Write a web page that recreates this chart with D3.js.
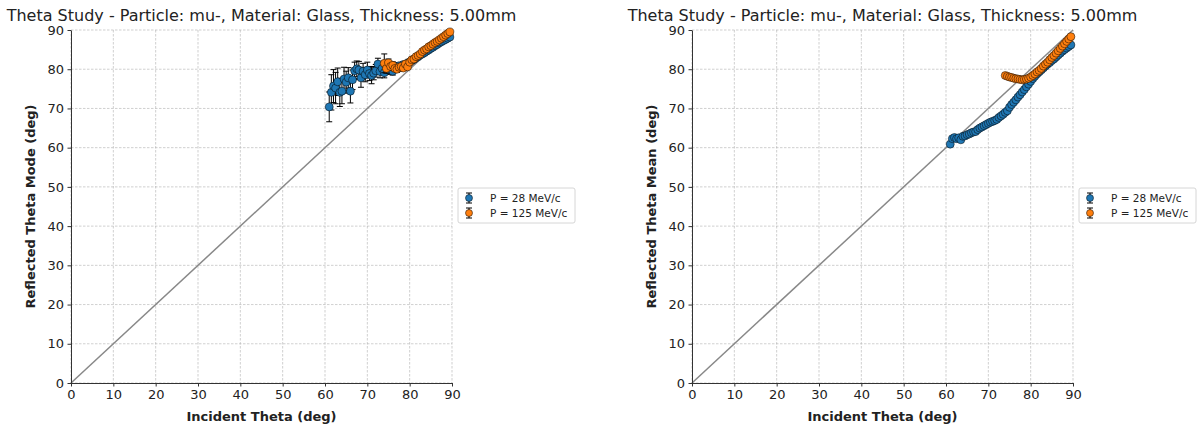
<!DOCTYPE html>
<html><head><meta charset="utf-8">
<script src="https://cdn.jsdelivr.net/npm/d3@7"></script>
<style>
body{margin:0;background:#fff;}
svg text{font-family:"DejaVu Sans",sans-serif;fill:#222;}
</style></head>
<body><svg id="c" width="1199" height="429"></svg>
<script>
const titleText = "Theta Study - Particle: mu-, Material: Glass, Thickness: 5.00mm";
const xLabel = "Incident Theta (deg)";
const yLabels = ["Reflected Theta Mode (deg)", "Reflected Theta Mean (deg)"];
const seriesNames = ["P = 28 MeV/c", "P = 125 MeV/c"];
const ticks = [0,10,20,30,40,50,60,70,80,90];

const thetaLow = [61.0,61.5,62.0,62.5,63.0,63.5,64.0,64.5,65.0,65.5,66.0,66.5,67.0,67.5,68.0,68.5,69.0,69.5,70.0,70.5,71.0,71.5,72.0,72.5,73.0,73.5,74.0,74.5,75.0,75.5,76.0,76.5,77.0,77.5,78.0,78.5,79.0,79.5,80.0,80.5,81.0,81.5,82.0,82.5,83.0,83.5,84.0,84.5,85.0,85.5,86.0,86.5,87.0,87.5,88.0,88.5,89.0,89.5];
const modeLow = [70.4,74.1,75.7,75.2,76.8,74.1,74.4,77.5,76.7,77.8,74.4,77.3,79.6,80.1,79.8,77.8,79.5,78.6,79.8,78.9,78.4,79.0,79.6,81.3,79.4,80.2,79.1,80.5,79.8,80.3,79.5,80.6,80.2,80.9,80.4,81.2,81.0,81.6,81.8,82.2,82.5,82.9,83.2,83.6,83.9,84.2,84.6,84.9,85.3,85.6,86.0,86.3,86.7,87.0,87.3,87.6,87.9,88.2];
const modeLowErr = [3.8,4.5,4.2,4.0,3.5,3.6,3.2,3.0,2.8,2.6,3.0,2.5,2.2,2.0,2.2,2.4,2.0,1.8,2.0,1.8,2.1,1.7,1.6,1.5,1.6,1.4,1.3,1.2,1.1,1.0,1.0,0.9,0.8,0.8,0.7,0.7,0.6,0.6,0.5,0.5,0.5,0.4,0.4,0.4,0.4,0.3,0.3,0.3,0.3,0.3,0.3,0.2,0.2,0.2,0.2,0.2,0.2,0.2];
const meanLow = [60.9,62.3,62.6,62.3,62.5,62.0,62.9,63.0,63.3,63.5,63.8,64.0,64.1,64.6,65.0,65.3,65.6,65.9,66.2,66.5,66.7,66.9,67.2,67.7,68.1,68.5,69.0,69.4,70.3,71.0,71.6,72.2,72.9,73.5,74.2,74.8,75.5,76.2,76.9,77.6,78.2,78.8,79.3,79.8,80.3,80.8,81.3,81.7,82.2,82.6,83.1,83.6,84.1,84.6,85.0,85.4,85.8,86.2];

const thetaHigh = [74.0,74.5,75.0,75.5,76.0,76.5,77.0,77.5,78.0,78.5,79.0,79.5,80.0,80.5,81.0,81.5,82.0,82.5,83.0,83.5,84.0,84.5,85.0,85.5,86.0,86.5,87.0,87.5,88.0,88.5,89.0,89.5];
const modeHigh = [81.5,80.2,81.6,80.7,81.0,80.2,80.0,80.5,80.7,80.3,81.3,80.6,81.8,82.4,82.6,83.2,83.5,83.9,84.5,84.9,85.2,85.7,86.0,86.4,86.8,87.1,87.5,87.9,88.3,88.7,89.1,89.5];
const modeHighErr = [2.4,1.2,1.0,1.0,0.9,0.8,0.8,0.7,0.6,0.6,0.6,0.5,0.5,0.5,0.4,0.4,0.4,0.4,0.3,0.3,0.3,0.3,0.3,0.3,0.2,0.2,0.2,0.2,0.2,0.2,0.2,0.2];
const meanHigh = [78.4,78.2,78.0,77.9,77.7,77.6,77.5,77.4,77.3,77.4,77.5,77.7,78.0,78.4,78.8,79.3,79.7,80.2,80.8,81.3,81.8,82.4,83.0,83.5,84.1,84.7,85.3,85.9,86.5,87.1,87.7,88.3];

const colors = ["#1f77b4", "#ff7f0e"];

const svg = d3.select("#c");
const panels = [
  {x0:71, yLabel:yLabels[0], series:[
     {t:thetaLow, v:modeLow, e:modeLowErr, c:colors[0]},
     {t:thetaHigh, v:modeHigh, e:modeHighErr, c:colors[1]}]},
  {x0:692, yLabel:yLabels[1], series:[
     {t:thetaLow, v:meanLow, e:null, c:colors[0]},
     {t:thetaHigh, v:meanHigh, e:null, c:colors[1]}]}
];
const W = 381, plotTop = 30, plotBottom = 383;

panels.forEach(p => {
  const g = svg.append("g");
  const x = d3.scaleLinear().domain([0,90]).range([p.x0, p.x0+W]);
  const y = d3.scaleLinear().domain([0,90]).range([plotBottom, plotTop]);
  g.append("g").selectAll("line").data(ticks).join("line")
    .attr("x1", d=>x(d)).attr("x2", d=>x(d)).attr("y1", plotTop).attr("y2", plotBottom)
    .attr("stroke","#b0b0b0").attr("stroke-width",0.6).attr("stroke-dasharray","2.5,1.5");
  g.append("g").selectAll("line").data(ticks).join("line")
    .attr("x1", p.x0).attr("x2", p.x0+W).attr("y1", d=>y(d)).attr("y2", d=>y(d))
    .attr("stroke","#b0b0b0").attr("stroke-width",0.6).attr("stroke-dasharray","2.5,1.5");
  g.append("line").attr("x1",x(0)).attr("y1",y(0)).attr("x2",x(90)).attr("y2",y(90))
    .attr("stroke","#888").attr("stroke-width",1.5);
  const xa = g.append("g").attr("transform",`translate(0,${plotBottom})`)
    .call(d3.axisBottom(x).tickValues(ticks).tickSize(3.5).tickPadding(3.5).tickSizeOuter(0));
  const ya = g.append("g").attr("transform",`translate(${p.x0},0)`)
    .call(d3.axisLeft(y).tickValues(ticks).tickSize(3.5).tickPadding(3.5).tickSizeOuter(0));
  [xa,ya].forEach(a=>{
    a.selectAll("path").attr("stroke","#333").attr("stroke-width",1);
    a.selectAll("line").attr("stroke","#333");
    a.selectAll("text").attr("font-size","13px").attr("fill","#222").attr("font-family","DejaVu Sans");
  });
  p.series.forEach(s => {
    const data = s.t.map((t,i)=>({t, v:s.v[i], e: s.e ? s.e[i] : 0}));
    if (s.e) {
      const eg = g.append("g").attr("stroke","#000").attr("stroke-width",1);
      data.forEach(d=>{
        eg.append("line").attr("x1",x(d.t)).attr("x2",x(d.t)).attr("y1",y(d.v-d.e)).attr("y2",y(d.v+d.e));
        eg.append("line").attr("x1",x(d.t)-3).attr("x2",x(d.t)+3).attr("y1",y(d.v-d.e)).attr("y2",y(d.v-d.e));
        eg.append("line").attr("x1",x(d.t)-3).attr("x2",x(d.t)+3).attr("y1",y(d.v+d.e)).attr("y2",y(d.v+d.e));
      });
    }
    g.append("g").selectAll("circle").data(data).join("circle")
      .attr("cx",d=>x(d.t)).attr("cy",d=>y(d.v)).attr("r",4)
      .attr("fill",s.c).attr("stroke","#000").attr("stroke-width",0.5);
  });
  g.append("text").attr("x", p.x0+W/2).attr("y", 21).attr("text-anchor","middle")
    .attr("font-size","16px").text(titleText);
  g.append("text").attr("x", p.x0+W/2).attr("y", 421).attr("text-anchor","middle")
    .attr("font-size","13px").attr("font-weight","bold").text(xLabel);
  g.append("text").attr("transform",`translate(${p.x0-36},${(plotTop+plotBottom)/2}) rotate(-90)`)
    .attr("text-anchor","middle").attr("font-size","13px").attr("font-weight","bold").text(p.yLabel);
  const lx = p.x0+W+6, ly = 188;
  const lg = g.append("g");
  lg.append("rect").attr("x",lx).attr("y",ly).attr("width",117).attr("height",35).attr("rx",2)
    .attr("fill","#fff").attr("stroke","#ccc").attr("stroke-width",0.8);
  seriesNames.forEach((n,i)=>{
    const cy = ly+10+i*15, cx = lx+11;
    lg.append("line").attr("x1",cx).attr("x2",cx).attr("y1",cy-5).attr("y2",cy+5).attr("stroke","#000");
    lg.append("line").attr("x1",cx-3).attr("x2",cx+3).attr("y1",cy-5).attr("y2",cy-5).attr("stroke","#000");
    lg.append("line").attr("x1",cx-3).attr("x2",cx+3).attr("y1",cy+5).attr("y2",cy+5).attr("stroke","#000");
    lg.append("circle").attr("cx",cx).attr("cy",cy).attr("r",3.5).attr("fill",colors[i]).attr("stroke","#000").attr("stroke-width",0.5);
    lg.append("text").attr("x",lx+32).attr("y",cy+4).attr("font-size","10.5px").text(n);
  });
});
</script></body></html>
